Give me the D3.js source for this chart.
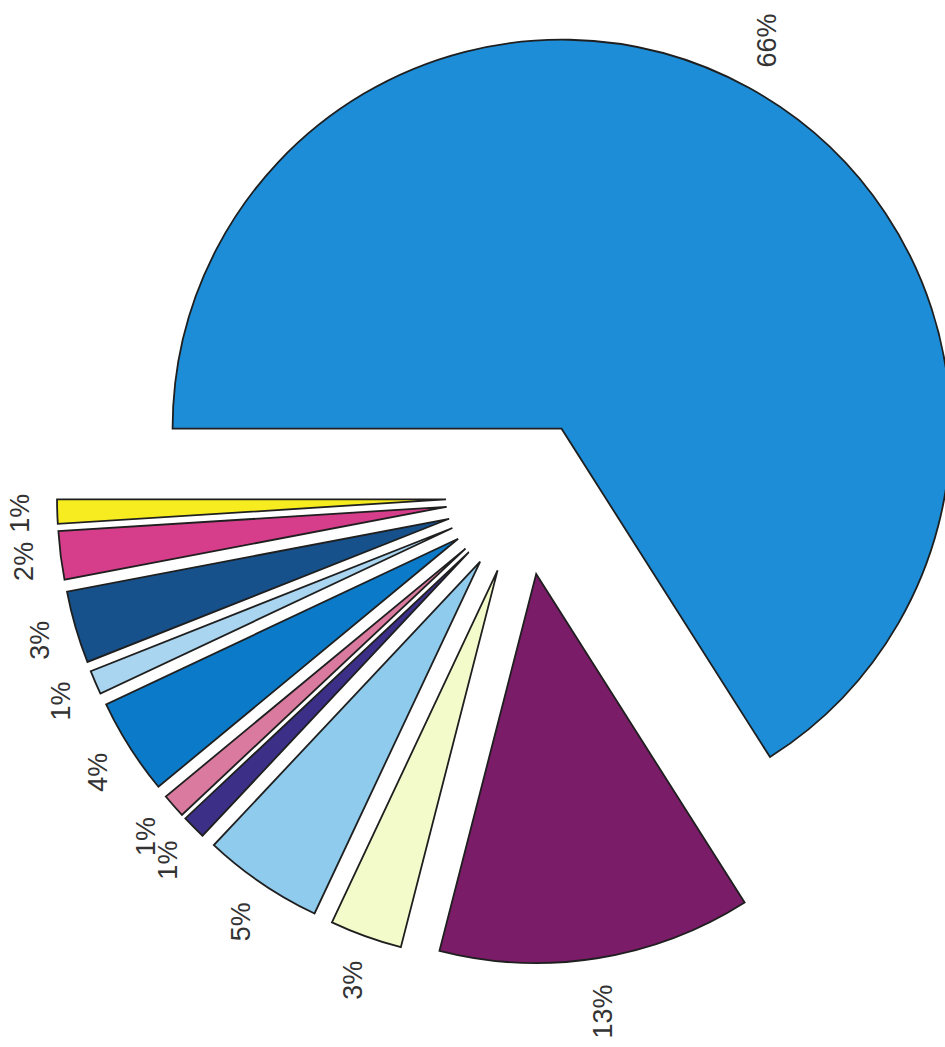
<!DOCTYPE html>
<html>
<head>
<meta charset="utf-8">
<script src="https://cdn.jsdelivr.net/npm/d3@7/dist/d3.min.js"></script>
<style>
  html, body { margin: 0; padding: 0; background: #ffffff; }
  svg { display: block; }
  .pct { font-family: "Liberation Sans", Arial, Helvetica, sans-serif; font-size: 27px; fill: #333333; }
</style>
</head>
<body>
<div id="chart"></div>
<script>
// Share of each category, in drawing order (clockwise on screen), largest last
const labels = ["13%", "3%", "5%", "1%", "1%", "4%", "1%", "3%", "2%", "1%", "66%"];
const values = [13, 3, 5, 1, 1, 4, 1, 3, 2, 1, 66];
const colors = ["#7a1c68", "#f4fbcb", "#8fcbec", "#3b2f88", "#d97a9e", "#0b7bc9",
                "#a9d5f1", "#16518b", "#d63d8b", "#f6ec1f", "#1c8dd6"];

const width = 945, height = 1047;
const cx = 524, cy = 497;      // pie centre
const radius = 389;
const explode = 78;            // every wedge pushed out along its bisector
const labelGap = 27;           // distance from rim to nearest edge of a label

const svg = d3.select("#chart").append("svg")
  .attr("width", width).attr("height", height)
  .attr("viewBox", `0 0 ${width} ${height}`);

svg.append("rect").attr("width", width).attr("height", height).attr("fill", "#ffffff");

// The large wedge ends on the left horizontal; the small wedges fill the rest
const total = d3.sum(values);
const smallShare = (total - values[values.length - 1]) / total;
const start = 1.5 * Math.PI - smallShare * 2 * Math.PI;

const pie = d3.pie().sort(null).value(d => d)
  .startAngle(start).endAngle(start + 2 * Math.PI);
const arcs = pie(values);

const arc = d3.arc().innerRadius(0).outerRadius(radius);

const g = svg.append("g").attr("transform", `translate(${cx},${cy})`);

function unit(a) { return [Math.sin(a), -Math.cos(a)]; }

arcs.forEach((d, i) => {
  const mid = (d.startAngle + d.endAngle) / 2;
  const [ux, uy] = unit(mid);
  const ox = explode * ux, oy = explode * uy;

  g.append("path")
    .attr("d", arc(d))
    .attr("transform", `translate(${ox},${oy})`)
    .attr("fill", colors[i])
    .attr("stroke", "#1f1f1f")
    .attr("stroke-width", 1.8)
    .attr("stroke-linejoin", "miter");

  const t = g.append("text")
    .attr("class", "pct")
    .attr("text-anchor", "middle")
    .attr("dominant-baseline", "central")
    .text(labels[i]);

  // Text reads bottom-to-top: its length runs along y, its height along x
  const len = t.node().getComputedTextLength();
  const halfX = 10, halfY = len / 2;
  const rr = radius + labelGap;
  const lx = ox + rr * ux + halfX * ux;
  const ly = oy + rr * uy + halfY * uy;
  t.attr("transform", `translate(${lx},${ly}) rotate(-90)`);
});
</script>
</body>
</html>
